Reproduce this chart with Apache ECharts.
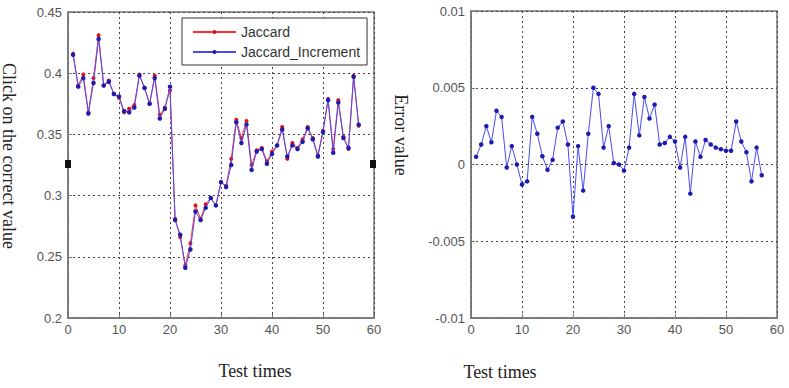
<!DOCTYPE html>
<html>
<head>
<meta charset="utf-8">
<script src="https://cdn.jsdelivr.net/npm/echarts@6/dist/echarts.min.js"></script>
<style>
  html, body { margin: 0; padding: 0; background: #fff; }
  #main { width: 789px; height: 388px; }
</style>
</head>
<body>
<div id="main"></div>
<script>
// test index (x axis of both plots)
var testTimes = [1,2,3,4,5,6,7,8,9,10,11,12,13,14,15,16,17,18,19,20,
  21,22,23,24,25,26,27,28,29,30,31,32,33,34,35,36,37,38,39,40,
  41,42,43,44,45,46,47,48,49,50,51,52,53,54,55,56,57];

// left plot
var jaccard = [0.416,0.390,0.399,0.368,0.396,0.431,0.390,0.394,0.383,0.380,
  0.368,0.371,0.374,0.399,0.388,0.375,0.398,0.366,0.372,0.386,
  0.281,0.266,0.243,0.261,0.292,0.281,0.293,0.298,0.292,0.311,
  0.308,0.330,0.362,0.347,0.361,0.325,0.337,0.339,0.328,0.336,
  0.341,0.356,0.330,0.343,0.339,0.346,0.356,0.347,0.333,0.353,
  0.379,0.338,0.378,0.348,0.338,0.398,0.357];
var jaccardIncrement = [0.415,0.389,0.396,0.367,0.392,0.428,0.390,0.393,0.383,0.381,
  0.369,0.368,0.372,0.398,0.388,0.375,0.396,0.363,0.371,0.389,
  0.280,0.268,0.241,0.256,0.287,0.280,0.290,0.298,0.292,0.311,
  0.307,0.325,0.360,0.343,0.358,0.321,0.336,0.338,0.326,0.334,
  0.341,0.354,0.332,0.341,0.338,0.344,0.355,0.346,0.332,0.352,
  0.378,0.335,0.376,0.347,0.339,0.397,0.358];

// right plot
var errorValue = [0.0005,0.0013,0.0025,0.00145,0.0035,0.0031,-0.0002,0.0012,0.0000,-0.0013,
  -0.0011,0.0031,0.0020,0.00054,-0.00035,0.0003,0.0024,0.0028,0.0013,-0.0034,
  0.0012,-0.0017,0.0020,0.0050,0.0046,0.0011,0.0025,0.0001,0.0000,-0.0004,
  0.0011,0.0046,0.0019,0.0044,0.0030,0.0039,0.0013,0.0014,0.0018,0.0015,
  -0.0002,0.0018,-0.0019,0.0015,0.0005,0.0016,0.0013,0.0011,0.0010,0.0009,
  0.0009,0.0028,0.0015,0.0008,-0.0011,0.0011,-0.0007];

var seriesNames = ['Jaccard', 'Jaccard_Increment'];

function pairs(xs, ys){
  var out = [];
  for (var i = 0; i < ys.length; i++) out.push([xs[i], ys[i]]);
  return out;
}

var labelFont = {color: '#555', fontSize: 13, fontFamily: 'Liberation Sans'};
var gridLine = {show: true, lineStyle: {color: '#444', type: [2, 3], width: 1}};

function xAxisOf(gridIndex){
  return {
    type: 'value', gridIndex: gridIndex, min: 0, max: 60, interval: 10,
    axisLine: {show: true, onZero: false, lineStyle: {color: '#777', width: 1.5}},
    axisTick: {show: true, inside: true, length: 4, lineStyle: {color: '#777'}},
    axisLabel: Object.assign({margin: 5}, labelFont),
    splitLine: gridLine
  };
}

var option = {
  backgroundColor: '#fff',
  animation: false,
  grid: [
    {left: 68, top: 12, width: 306, height: 306, show: true, borderColor: '#777', borderWidth: 1.5},
    {left: 471, top: 11, width: 306, height: 307, show: true, borderColor: '#777', borderWidth: 1.5}
  ],
  legend: {
    data: seriesNames,
    orient: 'vertical',
    left: 182, top: 18,
    padding: [7, 7, 6, 10],
    itemGap: 6,
    itemWidth: 43,
    itemHeight: 5,
    borderColor: '#333',
    borderWidth: 1,
    backgroundColor: '#fff',
    textStyle: {color: '#333', fontSize: 14, fontFamily: 'Liberation Sans'}
  },
  xAxis: [xAxisOf(0), xAxisOf(1)],
  yAxis: [
    {
      type: 'value', gridIndex: 0, min: 0.2, max: 0.45, interval: 0.05,
      axisLine: {show: true, lineStyle: {color: '#777', width: 1.5}},
      axisTick: {show: true, inside: true, length: 4, lineStyle: {color: '#777'}},
      axisLabel: Object.assign({margin: 6}, labelFont),
      splitLine: gridLine
    },
    {
      type: 'value', gridIndex: 1, min: -0.01, max: 0.01, interval: 0.005,
      axisLine: {show: true, onZero: false, lineStyle: {color: '#777', width: 1.5}},
      axisTick: {show: true, inside: true, length: 4, lineStyle: {color: '#777'}},
      axisLabel: Object.assign({margin: 6}, labelFont),
      splitLine: gridLine
    }
  ],
  series: [
    {
      name: 'Jaccard', type: 'line', xAxisIndex: 0, yAxisIndex: 0,
      data: pairs(testTimes, jaccard),
      symbol: 'circle', symbolSize: 4,
      lineStyle: {color: '#ff3030', width: 1},
      itemStyle: {color: '#e01010'},
      z: 2
    },
    {
      name: 'Jaccard_Increment', type: 'line', xAxisIndex: 0, yAxisIndex: 0,
      data: pairs(testTimes, jaccardIncrement),
      symbol: 'circle', symbolSize: 4.5,
      lineStyle: {color: '#4a4af5', width: 1},
      itemStyle: {color: '#1c1cb0'},
      z: 3
    },
    {
      name: 'Error value', type: 'line', xAxisIndex: 1, yAxisIndex: 1,
      data: pairs(testTimes, errorValue),
      symbol: 'circle', symbolSize: 4.5,
      lineStyle: {color: '#4a4af5', width: 1},
      itemStyle: {color: '#1c1cb0'},
      z: 3
    }
  ],
  graphic: [
    {type: 'text', x: 9, y: 156, rotation: -Math.PI / 2,
      style: {text: 'Click on the correct value', font: '18px "Liberation Serif"', fill: '#222',
        textAlign: 'center', textVerticalAlign: 'middle'}},
    {type: 'text', x: 401, y: 135, rotation: -Math.PI / 2,
      style: {text: 'Error value', font: '18px "Liberation Serif"', fill: '#222',
        textAlign: 'center', textVerticalAlign: 'middle'}},
    {type: 'text', x: 255, y: 371,
      style: {text: 'Test times', font: '18px "Liberation Serif"', fill: '#222',
        textAlign: 'center', textVerticalAlign: 'middle'}},
    {type: 'text', x: 500, y: 372,
      style: {text: 'Test times', font: '18px "Liberation Serif"', fill: '#222',
        textAlign: 'center', textVerticalAlign: 'middle'}},
    // selection handles left on the figure
    {type: 'rect', shape: {x: 65, y: 160, width: 6, height: 8}, style: {fill: '#111'}, z: 10},
    {type: 'rect', shape: {x: 370, y: 160, width: 6, height: 8}, style: {fill: '#111'}, z: 10}
  ]
};

var myChart = echarts.init(document.getElementById('main'), null, {renderer: 'svg'});
myChart.setOption(option);
window.onresize = myChart.resize;
</script>
</body>
</html>
